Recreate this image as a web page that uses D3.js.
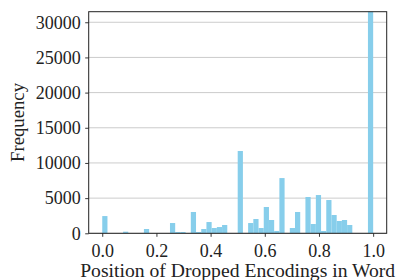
<!DOCTYPE html>
<html>
<head>
<meta charset="utf-8">
<script src="https://cdn.jsdelivr.net/npm/d3@7.9.0/dist/d3.min.js"></script>
<style>
  body { margin: 0; background: #fff; }
  svg { display: block; }
  text { font-family: "Liberation Serif", "DejaVu Serif", serif; fill: #222; }
</style>
</head>
<body>
<svg id="chart" width="396" height="280"></svg>
<script>
// histogram of 52 equal bins over [0, 1]
const binCount = 52;
const counts = [
  2450, 0, 0, 0, 230, 0, 0, 0, 610, 0,
  0, 0, 0, 1460, 180, 180, 0, 3030, 180, 610,
  1600, 750, 890, 1180, 0, 0, 11700, 0, 1460, 2030,
  750, 3740, 1890, 330, 7850, 0, 750, 3030, 0, 5160,
  1320, 5440, 330, 4730, 2600, 1750, 1890, 1180, 0, 0,
  0, 40000
];
const xTicks = [0, 0.2, 0.4, 0.6, 0.8, 1.0];
const yTicks = [0, 5000, 10000, 15000, 20000, 25000, 30000];
const yMax = 31500;

const bins = counts.map((c, i) => ({ x0: i / binCount, x1: (i + 1) / binCount, count: c }));

const svg = d3.select('#chart');
const plotLeft = 88.7, plotRight = 386.7, plotTop = 11.7, plotBottom = 233.3;

const x = d3.scaleLinear().domain([-0.05, 1.05]).range([plotLeft, plotRight]);
const y = d3.scaleLinear().domain([0, yMax]).range([plotBottom, plotTop]);

svg.append('defs').append('clipPath').attr('id', 'plot-clip')
  .append('rect')
  .attr('x', plotLeft).attr('y', plotTop)
  .attr('width', plotRight - plotLeft).attr('height', plotBottom - plotTop);

// gridlines
svg.append('g')
  .selectAll('line')
  .data(yTicks)
  .join('line')
  .attr('x1', plotLeft).attr('x2', plotRight)
  .attr('y1', d => y(d)).attr('y2', d => y(d))
  .attr('stroke', '#cccccc')
  .attr('stroke-width', 1);

// bars
svg.append('g')
  .attr('clip-path', 'url(#plot-clip)')
  .selectAll('rect')
  .data(bins.filter(d => d.count > 0))
  .join('rect')
  .attr('x', d => x(d.x0))
  .attr('width', d => x(d.x1) - x(d.x0))
  .attr('y', d => y(Math.min(d.count, yMax + 1000)))
  .attr('height', d => y(0) - y(Math.min(d.count, yMax + 1000)))
  .attr('fill', '#87CEEB');

// axes
const xAxis = svg.append('g')
  .attr('transform', `translate(0,${plotBottom})`)
  .call(d3.axisBottom(x).tickValues(xTicks).tickFormat(d3.format('.1f')).tickSize(3.5).tickPadding(7));
const yAxis = svg.append('g')
  .attr('transform', `translate(${plotLeft},0)`)
  .call(d3.axisLeft(y).tickValues(yTicks).tickFormat(d => String(d)).tickSize(3.5).tickPadding(4.5));

[xAxis, yAxis].forEach(g => {
  g.select('.domain').remove();
  g.selectAll('line').attr('stroke', '#222').attr('stroke-width', 0.9);
  g.selectAll('text')
    .attr('fill', '#222')
    .style('font-family', '"Liberation Serif", serif')
    .style('font-size', '18px');
});

// frame
svg.append('rect')
  .attr('x', plotLeft).attr('y', plotTop)
  .attr('width', plotRight - plotLeft).attr('height', plotBottom - plotTop)
  .attr('fill', 'none')
  .attr('stroke', '#222')
  .attr('stroke-width', 1);

// labels
svg.append('text')
  .attr('x', (plotLeft + plotRight) / 2)
  .attr('y', 276.5)
  .attr('text-anchor', 'middle')
  .attr('textLength', 315)
  .attr('lengthAdjust', 'spacingAndGlyphs')
  .style('font-size', '18px')
  .text('Position of Dropped Encodings in Word');

svg.append('text')
  .attr('transform', `translate(24,${(plotTop + plotBottom) / 2}) rotate(-90)`)
  .attr('text-anchor', 'middle')
  .attr('textLength', 79)
  .attr('lengthAdjust', 'spacingAndGlyphs')
  .style('font-size', '18px')
  .text('Frequency');
</script>
</body>
</html>
